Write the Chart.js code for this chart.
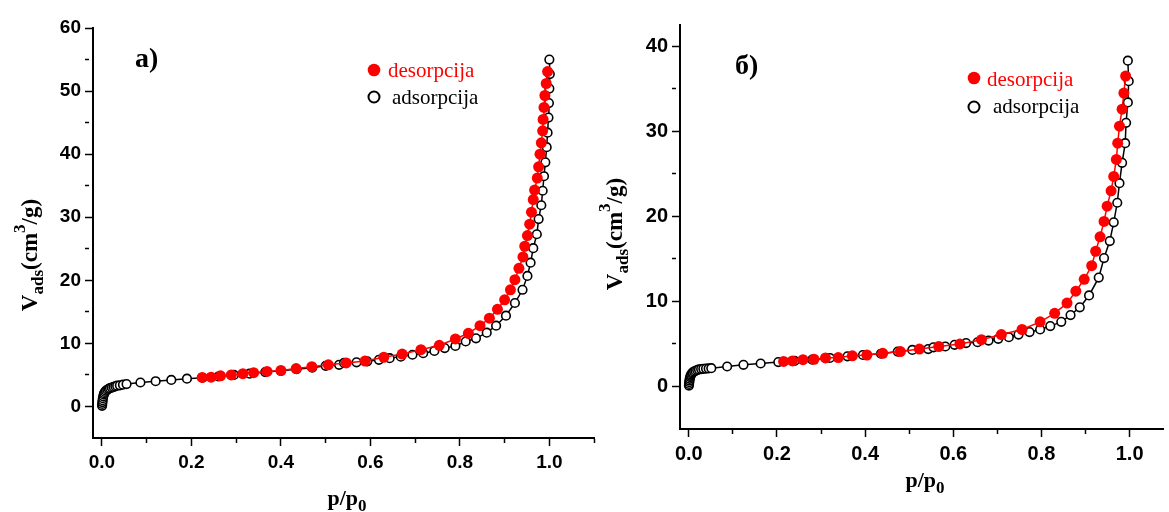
<!DOCTYPE html>
<html>
<head>
<meta charset="utf-8">
<script src="https://cdn.jsdelivr.net/npm/chart.js@4.4.1/dist/chart.umd.min.js"></script>
<style>
  html, body { margin: 0; padding: 0; background: #fff; overflow: hidden; }
  body { width: 1169px; height: 512px; position: relative; }
  canvas { position: absolute; top: 0; }
  #ca { left: 0; }
  #cb { left: 590px; }
</style>
</head>
<body>
<canvas id="ca" width="600" height="512"></canvas>
<canvas id="cb" width="579" height="512"></canvas>
<script>
// ---------- Panel a) ----------
const adsA_x = [0.0003,0.0006,0.001,0.0015,0.002,0.003,0.004,0.005,0.007,0.009,0.012,0.015,0.018,0.022,0.026,0.030,0.034,0.040,0.047,0.055,
  0.086,0.120,0.155,0.190,0.225,0.260,0.295,0.330,0.365,0.400,0.435,0.470,0.500,0.530,0.541,0.569,0.593,0.619,
  0.643,0.668,0.694,0.718,0.743,0.766,0.790,0.813,0.836,0.860,0.881,0.903,0.923,0.940,0.951,0.958,0.964,0.972,
  0.976,0.982,0.985,0.988,0.991,0.994,0.996,0.998,0.999,1.000,1.001,1.000];
const adsA_y = [0.1,0.4,0.7,1.0,1.3,1.6,1.9,2.1,2.3,2.5,2.65,2.8,2.9,3.0,3.1,3.2,3.3,3.35,3.45,3.55,
  3.8,4.0,4.2,4.4,4.55,4.75,5.0,5.2,5.45,5.65,5.9,6.15,6.45,6.6,6.9,7.0,7.15,7.4,
  7.65,7.9,8.2,8.45,8.8,9.25,9.6,10.3,10.8,11.7,12.8,14.4,16.4,18.5,20.7,22.8,25.1,27.3,
  29.7,31.9,34.2,36.5,38.7,41.1,43.4,45.8,48.1,50.4,52.7,55.0];
const desA_x = [0.224,0.244,0.265,0.289,0.315,0.339,0.369,0.400,0.434,0.469,0.506,0.546,0.588,0.630,0.671,
  0.713,0.754,0.790,0.819,0.845,0.866,0.884,0.900,0.913,0.923,0.932,0.941,0.945,0.951,0.956,0.960,0.964,
  0.967,0.973,0.976,0.979,0.982,0.985,0.986,0.988,0.990,0.993,0.996];
const desA_y = [4.6,4.65,4.85,5.0,5.2,5.35,5.55,5.7,6.0,6.3,6.6,6.9,7.2,7.8,8.3,
  9.0,9.7,10.7,11.6,12.8,14.0,15.4,16.9,18.5,20.1,21.9,23.7,25.4,27.1,28.9,30.8,32.8,
  34.3,36.2,38.0,40.0,41.8,43.7,45.5,47.4,49.3,51.2,53.1];

// ---------- Panel б) ----------
const adsB_x = [0.0003,0.0006,0.001,0.0015,0.002,0.003,0.004,0.005,0.007,0.009,0.012,0.015,0.019,0.023,0.028,0.033,0.039,0.045,0.051,
  0.087,0.124,0.163,0.203,0.240,0.280,0.320,0.360,0.395,0.436,0.474,0.507,0.543,0.555,0.582,0.603,0.629,
  0.655,0.680,0.702,0.726,0.748,0.773,0.797,0.820,0.845,0.866,0.887,0.908,0.930,0.942,0.955,0.964,0.972,
  0.977,0.983,0.990,0.992,0.996,0.998,0.996];
const adsB_y = [0.1,0.3,0.5,0.7,0.9,1.1,1.25,1.4,1.55,1.65,1.75,1.85,1.93,2.0,2.05,2.08,2.1,2.12,2.15,
  2.35,2.55,2.7,2.87,3.0,3.15,3.35,3.55,3.7,3.85,4.1,4.3,4.4,4.6,4.7,4.9,5.1,
  5.2,5.4,5.6,5.8,6.1,6.4,6.7,7.1,7.6,8.4,9.3,10.7,12.8,15.1,17.1,19.3,21.6,
  23.9,26.3,28.6,31.0,33.4,35.9,38.3];
const desB_x = [0.215,0.235,0.259,0.284,0.310,0.339,0.371,0.404,0.440,0.480,0.523,0.567,0.615,0.664,0.709,
  0.756,0.797,0.830,0.858,0.878,0.897,0.914,0.923,0.933,0.942,0.949,0.958,0.964,0.970,0.973,0.977,0.983,
  0.987,0.991];
const desB_y = [2.95,3.0,3.15,3.2,3.35,3.4,3.6,3.7,3.9,4.1,4.4,4.7,5.0,5.5,6.1,
  6.7,7.6,8.6,9.8,11.2,12.6,14.2,15.9,17.6,19.4,21.2,23.0,24.7,26.7,28.6,30.6,32.6,
  34.5,36.5];

const xTicksA = [0,0.1,0.2,0.3,0.4,0.5,0.6,0.7,0.8,0.9,1.0,1.1];
const yTicksA = [0,5,10,15,20,25,30,35,40,45,50,55,60];
const xTicksB = [0,0.1,0.2,0.3,0.4,0.5,0.6,0.7,0.8,0.9,1.0];
const yTicksB = [0,5,10,15,20,25,30,35,40];

const seriesLabels = ['desorpcija', 'adsorpcija'];
const panelLabels = ['a)', 'б)'];

const zip = (xs, ys) => xs.map((x, i) => ({x: x, y: ys[i]}));

function drawRich(ctx, parts, x, y, align) {
  let total = 0;
  parts.forEach(p => { ctx.font = p[1]; total += ctx.measureText(p[0]).width; });
  let cx = align === 'center' ? x - total / 2 : x;
  parts.forEach(p => {
    ctx.font = p[1];
    ctx.fillText(p[0], cx, y + p[2]);
    cx += ctx.measureText(p[0]).width;
  });
}

function makeChart(id, cfg) {
  const isMajor = v => Math.abs(Math.round(v * 10) % 2) === 0;
  const isMajorY = v => Math.round(v) % 10 === 0;
  const tickFont = {family: '"Liberation Sans", Arial, sans-serif', size: cfg.tickSize, weight: 'bold'};
  const overlay = {
    id: 'overlay' + id,
    afterDraw(chart) {
      const ctx = chart.ctx;
      ctx.save();
      ctx.textBaseline = 'alphabetic';
      ctx.fillStyle = '#000';
      drawRich(ctx, [
        ['p/p', 'bold 22px "Liberation Serif", "Times New Roman", serif', 0],
        ['0', 'bold 17px "Liberation Serif", "Times New Roman", serif', 6]
      ], cfg.xTitle[0], cfg.xTitle[1], 'center');
      ctx.save();
      ctx.translate(cfg.yTitle[0], cfg.yTitle[1]);
      ctx.rotate(-Math.PI / 2);
      drawRich(ctx, [
        ['V', 'bold 23px "Liberation Serif", "Times New Roman", serif', 0],
        ['ads', 'bold 17px "Liberation Serif", "Times New Roman", serif', 6],
        ['(cm', 'bold 23px "Liberation Serif", "Times New Roman", serif', 0],
        ['3', 'bold 17px "Liberation Serif", "Times New Roman", serif', -12],
        ['/g)', 'bold 23px "Liberation Serif", "Times New Roman", serif', 0]
      ], 0, 0, 'center');
      ctx.restore();
      ctx.font = 'bold 28px "Liberation Serif", "Times New Roman", serif';
      ctx.fillText(cfg.panel, cfg.panelPos[0], cfg.panelPos[1]);
      const lg = cfg.legend;
      ctx.beginPath();
      ctx.arc(lg.dx, lg.y1, 6.3, 0, Math.PI * 2);
      ctx.fillStyle = '#ff0000';
      ctx.fill();
      ctx.font = '21px "Liberation Serif", "Times New Roman", serif';
      ctx.fillText(seriesLabels[0], lg.t1, lg.b1);
      ctx.beginPath();
      ctx.arc(lg.dx, lg.y2, 5.5, 0, Math.PI * 2);
      ctx.fillStyle = '#fff';
      ctx.fill();
      ctx.lineWidth = 2;
      ctx.strokeStyle = '#000';
      ctx.stroke();
      ctx.fillStyle = '#000';
      ctx.fillText(seriesLabels[1], lg.t2, lg.b2);
      ctx.restore();
    }
  };
  return new Chart(document.getElementById(id), {
    type: 'scatter',
    data: {
      datasets: [
        {
          label: seriesLabels[0],
          data: zip(cfg.desX, cfg.desY),
          showLine: true,
          borderColor: '#ff0000',
          borderWidth: 1.5,
          backgroundColor: '#ff0000',
          pointBackgroundColor: '#ff0000',
          pointBorderColor: '#ff0000',
          pointRadius: 5.5,
          pointBorderWidth: 0,
          tension: 0
        },
        {
          label: seriesLabels[1],
          data: zip(cfg.adsX, cfg.adsY),
          showLine: true,
          borderColor: '#000',
          borderWidth: 1.5,
          backgroundColor: '#fff',
          pointBackgroundColor: '#fff',
          pointBorderColor: '#000',
          pointRadius: 4.3,
          pointBorderWidth: 1.6,
          tension: 0
        }
      ]
    },
    options: {
      responsive: false,
      animation: false,
      devicePixelRatio: 1,
      layout: { padding: { left: 0, right: cfg.padRight, top: cfg.padTop, bottom: 0 } },
      plugins: { legend: { display: false }, tooltip: { enabled: false } },
      scales: {
        x: {
          type: 'linear',
          min: cfg.xMin, max: cfg.xMax,
          afterBuildTicks: s => { s.ticks = cfg.xTicks.map(v => ({value: v})); },
          afterFit: s => { s.height = cfg.xAxisH; },
          grid: {
            display: true, drawOnChartArea: false, drawTicks: true,
            tickLength: 8, tickColor: '#000', tickWidth: 1.5,
            tickBorderDash: c => (c.tick && !isMajor(c.tick.value)) ? [4, 40] : []
          },
          border: { display: true, color: '#000', width: 2 },
          ticks: {
            color: '#000', font: tickFont, padding: 5, maxRotation: 0, autoSkip: false,
            callback: v => isMajor(v) && v <= 1.0001 ? v.toFixed(1) : ''
          },
          title: { display: false }
        },
        y: {
          type: 'linear',
          min: cfg.yMin, max: cfg.yMax,
          afterBuildTicks: s => { s.ticks = cfg.yTicks.map(v => ({value: v})); },
          afterFit: s => { s.width = cfg.yAxisW; },
          grid: {
            display: true, drawOnChartArea: false, drawTicks: true,
            tickLength: 8, tickColor: '#000', tickWidth: 1.5,
            tickBorderDash: c => (c.tick && !isMajorY(c.tick.value)) ? [4, 40] : []
          },
          border: { display: true, color: '#000', width: 2 },
          ticks: {
            color: '#000', font: tickFont, padding: 4, autoSkip: false,
            callback: v => isMajorY(v) ? String(v) : ''
          },
          title: { display: false }
        }
      }
    },
    plugins: [overlay]
  });
}

makeChart('ca', {
  adsX: adsA_x, adsY: adsA_y, desX: desA_x, desY: desA_y,
  xTicks: xTicksA, yTicks: yTicksA,
  xMin: -0.02, xMax: 1.1, yMin: -5, yMax: 60,
  padTop: 28, padRight: 1, xAxisH: 74, yAxisW: 93, tickSize: 19,
  xTitle: [347, 505], yTitle: [37, 255],
  panel: panelLabels[0], panelPos: [135, 67],
  legend: { dx: 374, y1: 70, y2: 97, t1: 388, b1: 77, t2: 392, b2: 104 }
});

makeChart('cb', {
  adsX: adsB_x, adsY: adsB_y, desX: desB_x, desY: desB_y,
  xTicks: xTicksB, yTicks: yTicksB,
  xMin: -0.02, xMax: 1.076, yMin: -5, yMax: 42.5,
  padTop: 25, padRight: 0, xAxisH: 83, yAxisW: 90, tickSize: 20,
  xTitle: [925 - 590, 487], yTitle: [622 - 590, 234],
  panel: panelLabels[1], panelPos: [735 - 590, 74],
  legend: { dx: 974 - 590, y1: 78, y2: 107, t1: 987 - 590, b1: 86, t2: 993 - 590, b2: 113 }
});
</script>
</body>
</html>
